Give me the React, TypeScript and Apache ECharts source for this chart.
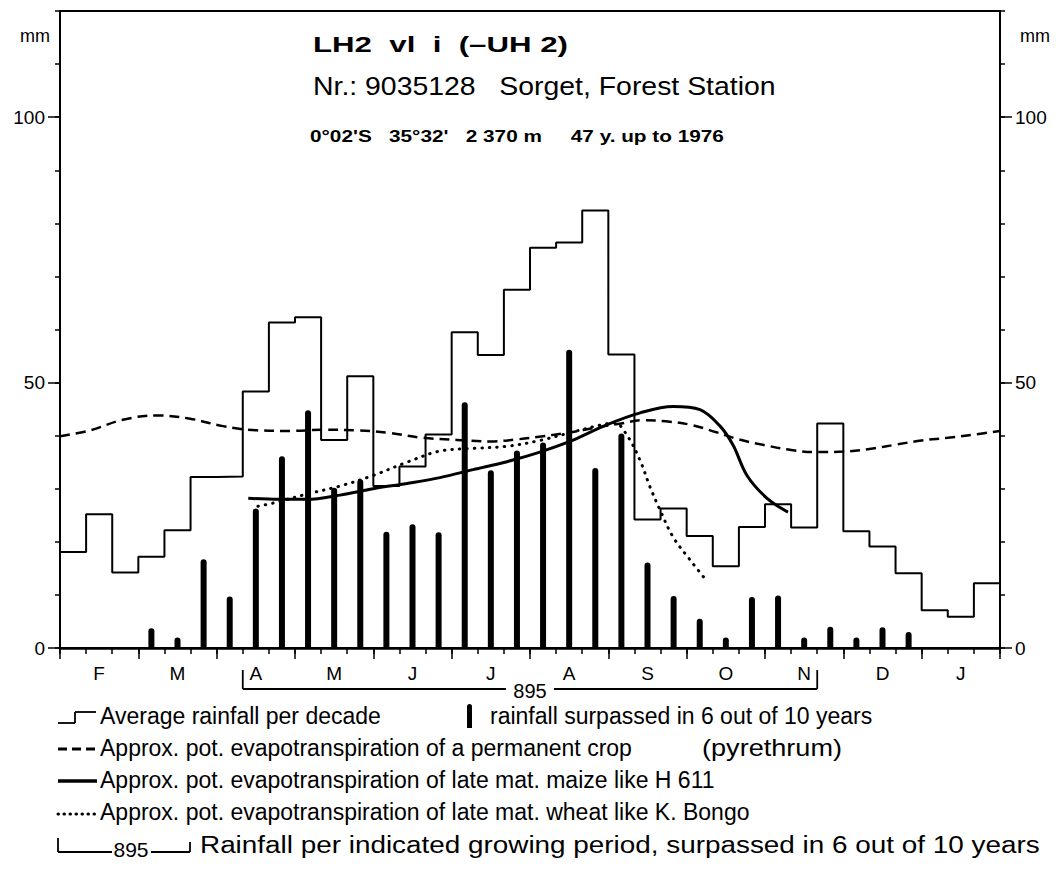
import React, { useEffect, useRef } from "react";
import * as echarts from "echarts";

// ---- data (x in decades from 1 Feb; 36 decades = Feb..Jan) ----
const months = ["F", "M", "A", "M", "J", "J", "A", "S", "O", "N", "D", "J"];
const avgRainfall = [
  18.1, 25.2, 14.2, 17.2, 22.2, 32.2, 32.3, 48.3, 61.3, 62.3, 39.2, 51.2,
  30.5, 34.2, 40.2, 59.5, 55.2, 67.5, 75.4, 76.4, 82.4, 55.3, 24.2, 26.3,
  21.1, 15.4, 22.8, 27.1, 22.7, 42.3, 22.0, 19.1, 14.1, 7.1, 5.9, 12.2,
];
const rain6of10 = [
  0, 0, 0, 3.7, 2.0, 16.7, 9.7, 26.3, 36.1, 44.8, 30.2, 31.8,
  21.9, 23.3, 21.8, 46.3, 33.5, 37.2, 38.7, 56.2, 33.9, 40.4, 16.1, 9.8,
  5.5, 2.0, 9.6, 9.9, 2.0, 4.0, 2.0, 3.9, 3.0, 0, 0, 0,
];
const etPermanentX = [0, 1.15, 2.41, 3.72, 4.98, 6.24, 7.54, 8.81, 10.07, 11.37, 12.64, 13.9, 15.2, 16.47, 17.5, 18.5, 19.5, 20.5, 21.5, 22.3, 23.2, 24.2, 25.1, 26.0, 27.0, 28.0, 29.0, 30.0, 31.0, 32.0, 33.0, 34.0, 35.0, 36.0];
const etPermanentY = [39.9, 41.0, 43.0, 43.8, 43.2, 41.8, 41.0, 40.9, 41.1, 41.0, 40.5, 39.6, 39.2, 38.9, 39.3, 39.9, 40.6, 41.5, 42.3, 42.9, 42.7, 42.0, 40.7, 39.3, 38.2, 37.3, 36.9, 37.0, 37.5, 38.3, 39.1, 39.6, 40.2, 40.9];
const etMaizeX = [7.21, 8.4, 9.46, 10.72, 11.99, 13.29, 14.55, 15.82, 17.12, 18.38, 19.57, 20.91, 22.22, 23.48, 24.51, 25.28, 25.78, 26.31, 27.08, 27.88];
const etMaizeY = [28.2, 28.0, 28.0, 28.8, 30.0, 31.0, 32.1, 33.6, 35.1, 36.9, 39.0, 42.0, 44.3, 45.5, 44.9, 41.8, 38.2, 32.5, 28.2, 25.6];
const etWheatX = [7.58, 8.16, 9.46, 10.72, 11.99, 13.29, 14.55, 15.82, 17.12, 18.38, 19.72, 20.7, 21.25, 21.75, 22.21, 22.6, 22.98, 23.48, 24.13, 24.66];
const etWheatY = [26.7, 27.3, 29.0, 30.5, 32.5, 35.0, 37.1, 37.6, 38.0, 39.1, 40.8, 42.0, 42.4, 39.8, 35.4, 30.3, 26.0, 20.9, 16.6, 13.3];
const growingPeriod = { from: 7, to: 29, total: "895" };
const yMajorTicks = [0, 50, 100];

const FONT = "'Liberation Sans', Arial, Helvetica, sans-serif";

function measure(text: string, font: string): number {
  const ctx = document.createElement("canvas").getContext("2d")!;
  ctx.font = font;
  return ctx.measureText(text).width;
}

function fitText(text: string, x: number, y: number, size: number, weight: string, width?: number) {
  const w = measure(text, `${weight} ${size}px 'Liberation Sans'`);
  const sx = width ? width / w : 1;
  return {
    type: "group",
    x,
    y,
    scaleX: sx,
    children: [
      {
        type: "text",
        style: {
          text,
          fontSize: size,
          fontWeight: weight,
          fontFamily: FONT,
          fill: "#000",
          textAlign: "left",
          textVerticalAlign: "middle",
        },
      },
    ],
  };
}

export default function App() {
  const ref = useRef<HTMLDivElement>(null);
  useEffect(() => {
    const chart = echarts.init(ref.current!, null, { renderer: "svg" });
    const stepData = avgRainfall.map((v, i) => [i, v]);
    stepData.push([avgRainfall.length, avgRainfall[avgRainfall.length - 1]]);
    const barData = rain6of10.map((v, i) => [i + 0.5, v]).filter((d) => d[1] > 0);
    const zip = (xs: number[], ys: number[]) => xs.map((x, i) => [x, ys[i]]);

    const yMinor = {
      type: "value",
      min: 0,
      max: 120,
      interval: 10,
      axisLine: { show: true, lineStyle: { color: "#000", width: 2 } },
      axisTick: { show: true, length: 5, lineStyle: { color: "#000", width: 1.5 } },
      splitLine: { show: false },
      axisLabel: { show: false },
    };
    const yMajor = {
      type: "value",
      min: 0,
      max: 120,
      axisLine: { show: false },
      axisTick: { show: true, length: 12, customValues: yMajorTicks, lineStyle: { color: "#000", width: 1.5 } },
      splitLine: { show: false },
      axisLabel: { color: "#000", fontSize: 19, fontFamily: FONT, margin: 15, customValues: yMajorTicks },
    };

    chart.setOption({
      animation: false,
      backgroundColor: "#fff",
      grid: { left: 60, right: 57, top: 11, bottom: 233, show: true, borderColor: "#000", borderWidth: 2 },
      xAxis: [
        {
          type: "value",
          min: 0,
          max: 36,
          interval: 1,
          axisLine: { show: true, onZero: false, lineStyle: { color: "#000", width: 2.5 } },
          axisTick: { show: true, length: 6, lineStyle: { color: "#000", width: 1.5 } },
          axisLabel: { show: false },
          splitLine: { show: false },
        },
        {
          type: "category",
          data: months,
          position: "bottom",
          boundaryGap: true,
          axisLine: { show: false },
          axisTick: { show: true, length: 11, interval: 0, lineStyle: { color: "#000", width: 1.5 } },
          axisLabel: { color: "#000", fontSize: 19, fontFamily: FONT, margin: 16, interval: 0 },
          splitLine: { show: false },
        },
      ],
      yAxis: [
        { ...yMinor, position: "left" },
        { ...yMinor, position: "right" },
        { ...yMajor, position: "left" },
        { ...yMajor, position: "right" },
      ],
      series: [
        {
          type: "line",
          name: "Average rainfall per decade",
          data: stepData,
          step: "end",
          showSymbol: false,
          lineStyle: { color: "#000", width: 2 },
          z: 3,
        },
        {
          type: "bar",
          name: "rainfall surpassed in 6 out of 10 years",
          data: barData,
          barWidth: 6,
          itemStyle: { color: "#000", borderRadius: [3, 3, 0, 0] },
          z: 4,
        },
        {
          type: "line",
          name: "permanent crop",
          data: zip(etPermanentX, etPermanentY),
          smooth: 0.4,
          showSymbol: false,
          lineStyle: { color: "#000", width: 2.5, type: [10, 6] },
          z: 5,
        },
        {
          type: "line",
          name: "maize H 611",
          data: zip(etMaizeX, etMaizeY),
          smooth: 0.35,
          showSymbol: false,
          lineStyle: { color: "#000", width: 3 },
          z: 5,
        },
        {
          type: "line",
          name: "wheat K. Bongo",
          data: zip(etWheatX, etWheatY),
          smooth: 0.35,
          showSymbol: false,
          lineStyle: { color: "#000", width: 3, type: [0.5, 7], cap: "round" },
          z: 5,
        },
      ],
    });

    const px = (d: number) => chart.convertToPixel({ xAxisIndex: 0 }, d) as number;
    const bx0 = px(growingPeriod.from);
    const bx1 = px(growingPeriod.to);
    const bMid = (bx0 + bx1) / 2;
    const bY = 689;
    const line = (x1: number, y1: number, x2: number, y2: number, w = 1.8, dash?: number[]) => ({
      type: "line",
      shape: { x1, y1, x2, y2 },
      style: { stroke: "#000", lineWidth: w, lineDash: dash },
    });
    const txt = (text: string, x: number, y: number, size: number, align = "left", weight = "normal") => ({
      type: "text",
      x,
      y,
      style: { text, fontSize: size, fontFamily: FONT, fontWeight: weight, fill: "#000", textAlign: align, textVerticalAlign: "middle" },
    });

    const rows = [716, 748, 780, 812, 845];
    const lgFont = 23;

    chart.setOption({
      graphic: [
        // units
        txt("mm", 20, 36, 18),
        txt("mm", 1020, 36, 18),
        // title
        fitText("LH2  vl  i  (–UH 2)", 313, 45, 22, "bold", 255),
        fitText("Nr.: 9035128   Sorget, Forest Station", 313, 86, 26, "normal", 463),
        fitText("0°02'S   35°32'   2 370 m     47 y. up to 1976", 310, 136, 17, "bold", 414),
        // growing period bracket
        line(bx0, bY, bMid - 24, bY),
        line(bMid + 24, bY, bx1, bY),
        line(bx0, bY, bx0, 670),
        line(bx1, bY, bx1, 670),
        txt(growingPeriod.total, bMid, bY + 2, 20, "center"),
        // legend row 1
        line(58, 723, 75, 723),
        line(75, 723, 75, 712),
        line(75, 712, 96, 712),
        { type: "rect", shape: { x: 467, y: 704, width: 5, height: 24, r: [2.5, 2.5, 0, 0] }, style: { fill: "#000" } },
        txt("Average rainfall per decade", 100, rows[0], lgFont),
        txt("rainfall surpassed in 6 out of 10 years", 490, rows[0], lgFont),
        // row 2
        line(58, rows[1] + 1, 97, rows[1] + 1, 3, [9, 5]),
        txt("Approx. pot. evapotranspiration of a permanent crop", 100, rows[1], lgFont),
        fitText("(pyrethrum)", 702, rows[1], lgFont, "normal", 140),
        // row 3
        line(58, rows[2] + 1, 97, rows[2] + 1, 3.5),
        txt("Approx. pot. evapotranspiration of late mat. maize like H 611", 100, rows[2], lgFont),
        // row 4
        { type: "line", shape: { x1: 58, y1: rows[3] + 2, x2: 97, y2: rows[3] + 2 }, style: { stroke: "#000", lineWidth: 3, lineDash: [0.5, 5.5], lineCap: "round" } },
        txt("Approx. pot. evapotranspiration of late mat. wheat like K. Bongo", 100, rows[3], lgFont),
        // row 5
        line(58, rows[4] + 7, 58, rows[4] - 7),
        line(58, rows[4] + 7, 112, rows[4] + 7),
        txt(growingPeriod.total, 131, rows[4] + 4, 21, "center"),
        line(151, rows[4] + 7, 190, rows[4] + 7),
        line(190, rows[4] + 7, 190, rows[4] - 3),
        fitText("Rainfall per indicated growing period, surpassed in 6 out of 10 years", 200, rows[4], lgFont, "normal", 840),
      ],
    });

    return () => chart.dispose();
  }, []);
  return (
    <div
      ref={ref}
      style={{ position: "absolute", left: 0, top: 0, width: 1057, height: 881, background: "#fff" }}
    />
  );
}
